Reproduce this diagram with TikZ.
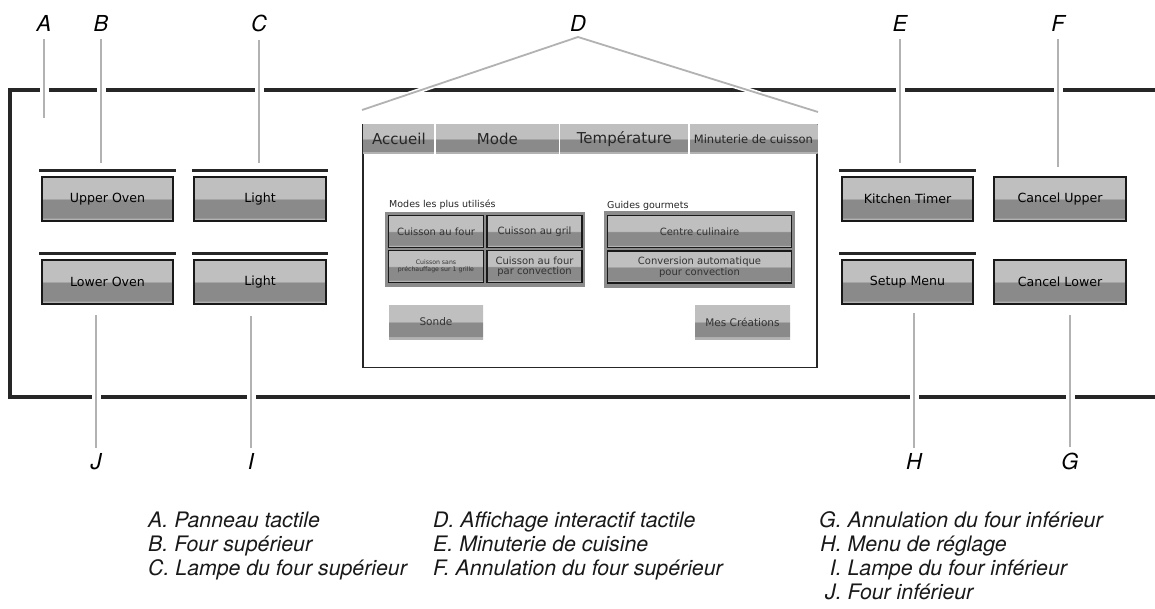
\documentclass[tikz,border=0pt]{standalone}
\usepackage{fontspec}
\setmainfont{TeX Gyre Heros}
\newfontfamily\uifont{DejaVu Sans}
\colorlet{shA}{black!30}
\colorlet{shB}{black!46}
\colorlet{shC}{black!25}
\pgfdeclareverticalshading{btnshade}{100bp}{color(0bp)=(shA); color(25bp)=(shA); color(28bp)=(shA); color(29bp)=(shB); color(49bp)=(shB); color(51bp)=(shC); color(75bp)=(shC); color(100bp)=(shC)}
\tikzset{
  frame/.style={draw=black!85, line width=3.5pt},
  leader/.style={draw=black!30, line width=1.8pt, preaction={draw=white, line width=9pt}},
  dleader/.style={draw=black!30, line width=1.8pt, preaction={draw=white, line width=5pt}},
  bar/.style={draw=black!85, line width=3pt},
  btn/.style={shade, shading=btnshade, draw=black!90, line width=1.6pt, minimum width=131.5pt, minimum height=44.5pt, inner sep=0pt, font=\uifont\fontsize{12.6}{14}\selectfont, text=black},
  sbtn/.style={shade, shading=btnshade, draw=black!90, line width=1.3pt, minimum width=95pt, minimum height=32pt, inner sep=0pt, font=\uifont\fontsize{10}{10.5}\selectfont, text=black!80, align=center},
  flatbtn/.style={shade, shading=btnshade, minimum width=94pt, minimum height=34pt, inner sep=0pt, font=\uifont\fontsize{10.5}{12}\selectfont, text=black!80},
  tabbox/.style={shade, shading=btnshade, minimum height=29pt, inner sep=0pt, anchor=north west, text=black!85},
  group/.style={fill=black!45, inner sep=0pt, anchor=north west},
  lbl/.style={font=\fontsize{22}{24}\selectfont\itshape, inner sep=2pt, anchor=base},
  legend/.style={font=\fontsize{21.3}{24}\selectfont\itshape, inner sep=0pt, anchor=north west, text=black!90},
  grp/.style={font=\uifont\fontsize{9.5}{11}\selectfont, inner sep=0pt, anchor=base west, text=black!85}
}
\begin{document}
\begin{tikzpicture}[x=1pt,y=-1pt]
\useasboundingbox (0,0) rectangle (1155,608);

% panel frame
\draw[frame] (1160,90) -- (10,90) -- (10,397) -- (1160,397);

% label letters
\node[lbl] (lA) at (44,31) {A};
\node[lbl] (lB) at (101,31) {B};
\node[lbl] (lC) at (259,31) {C};
\node[lbl] (lD) at (578,31) {D};
\node[lbl] (lE) at (900,31) {E};
\node[lbl] (lF) at (1058,31) {F};
\node[lbl] (lJ) at (96,469) {J};
\node[lbl] (lI) at (251,469) {I};
\node[lbl] (lH) at (914,469) {H};
\node[lbl] (lG) at (1070,469) {G};

% leader end points
\coordinate (a2) at (44,118);
\coordinate (b2) at (101,163);
\coordinate (c2) at (259,163);
\coordinate (e2) at (900,163);
\coordinate (f2) at (1058,167);
\coordinate (j2) at (96,315);
\coordinate (i2) at (251,316);
\coordinate (h2) at (914,313);
\coordinate (g2) at (1070,315);
\coordinate (dL) at (362,110);
\coordinate (dR) at (818,112);
\coordinate (dApex) at (578,37);

\draw[leader, shorten <=6pt] (lA) -- (a2);
\draw[leader, shorten <=6pt] (lB) -- (b2);
\draw[leader, shorten <=6pt] (lC) -- (c2);
\draw[leader, shorten <=6pt] (lE) -- (e2);
\draw[leader, shorten <=6pt] (lF) -- (f2);
\draw[leader, shorten <=3pt] (lJ) -- (j2);
\draw[leader, shorten <=3pt] (lI) -- (i2);
\draw[leader, shorten <=3pt] (lH) -- (h2);
\draw[leader, shorten <=3pt] (lG) -- (g2);
\draw[dleader] (dL) -- (dApex) -- (dR);

% left buttons
\node[btn] (upper) at (107.5,199) {Upper Oven};
\node[btn] (lightU) at (260,199) {Light};
\node[btn] (lower) at (107.5,282) {Lower Oven};
\node[btn] (lightL) at (260,282) {Light};
% right buttons
\node[btn] (timer) at (907.5,199) {Kitchen Timer};
\node[btn] (cancelU) at (1060,199) {Cancel Upper};
\node[btn] (setup) at (907.5,282) {Setup Menu};
\node[btn] (cancelL) at (1060,282) {Cancel Lower};

\foreach \b in {upper,lightU,lower,lightL,timer,setup}{
  \draw[bar] ([xshift=-1.5pt,yshift=5.5pt]\b.north west) -- ([xshift=1.5pt,yshift=5.5pt]\b.north east);
}

% screen
\node[draw=black!85, line width=1.5pt, minimum width=454pt, minimum height=243pt, inner sep=0pt, anchor=north west] (screen) at (362,123.5) {};
\node[tabbox, minimum width=72pt, font=\uifont\fontsize{15}{16}\selectfont] (t1) at (362.8,124.3) {Accueil};
\node[tabbox, minimum width=124pt, font=\uifont\fontsize{15}{16}\selectfont] (t2) at (t1.north east) {Mode};
\node[tabbox, minimum width=129pt, font=\uifont\fontsize{15}{16}\selectfont] (t3) at (t2.north east) {Température};
\node[tabbox, minimum width=128.4pt, font=\uifont\fontsize{11.5}{12}\selectfont] (t4) at (t3.north east) {Minuterie de cuisson};
\foreach \t in {t1,t2,t3}{
  \draw[white, line width=1.5pt] (\t.north east) -- (\t.south east);
}

\node[grp] (modes) at (389,207) {Modes les plus utilisés};
\node[grp] (guides) at (607,208) {Guides gourmets};

\node[group, minimum width=200pt, minimum height=75pt] (g1) at (385,212) {};
\node[group, minimum width=191pt, minimum height=77pt] (g2) at (604,211) {};

\node[sbtn] (four) at (436,231.5) {Cuisson au four};
\node[sbtn] (gril) at (534.5,231.5) {Cuisson au gril};
\node[sbtn, font=\uifont\fontsize{6.2}{7.5}\selectfont] (sans) at (436,266.5) {Cuisson sans\\préchauffage sur 1 grille};
\node[sbtn, font=\uifont\fontsize{10}{9.5}\selectfont] (conv) at (534.5,266.5) {Cuisson au four\\par convection};
\node[sbtn, minimum width=184pt] (centre) at (699.5,231.5) {Centre culinaire};
\node[sbtn, minimum width=184pt, font=\uifont\fontsize{10}{9.5}\selectfont] (auto) at (699.5,267) {Conversion automatique\\pour convection};

\node[flatbtn] (sonde) at (436,322) {Sonde};
\node[flatbtn, minimum width=95pt] (mes) at (742.5,322) {Mes Créations};

% legend
\node[legend] (leg1) at (148,510) {\begin{tabular}{@{}l@{}}
A. Panneau tactile\\
B. Four supérieur\\
C. Lampe du four supérieur
\end{tabular}};
\node[legend] (leg2) at (433,510) {\begin{tabular}{@{}l@{}}
D. Affichage interactif tactile\\
E. Minuterie de cuisine\\
F. Annulation du four supérieur
\end{tabular}};
\node[legend] (leg3) at (819,510) {\begin{tabular}{@{}r@{ }l@{}}
G. & Annulation du four inférieur\\
H. & Menu de réglage\\
I. & Lampe du four inférieur\\
J. & Four inférieur
\end{tabular}};
\end{tikzpicture}
\end{document}
